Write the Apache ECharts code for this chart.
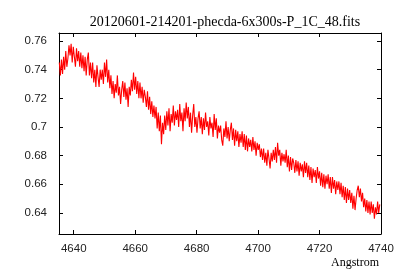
<!DOCTYPE html>
<html>
<head>
<meta charset="utf-8">
<script src="https://cdn.jsdelivr.net/npm/echarts@6/dist/echarts.min.js"></script>
<style>html,body{margin:0;padding:0;background:#fff}#c{width:400px;height:280px}</style>
</head>
<body>
<div id="c"></div>
<script>
// Wavelength grid (Angstrom): start and spacing of samples
const lambdaStart = 4635.3;
const lambdaStep = 0.35;
// Relative flux values
const flux = [
  0.745, 0.736, 0.747, 0.737, 0.749, 0.740, 0.753, 0.742, 0.748, 0.757,
  0.750, 0.758, 0.745, 0.756, 0.749, 0.742, 0.755, 0.746, 0.753, 0.742,
  0.752, 0.741, 0.750, 0.739, 0.749, 0.736, 0.747, 0.752, 0.736, 0.745,
  0.734, 0.745, 0.731, 0.740, 0.728, 0.743, 0.735, 0.728, 0.740, 0.733,
  0.740, 0.730, 0.745, 0.735, 0.747, 0.731, 0.740, 0.727, 0.736, 0.723,
  0.732, 0.720, 0.730, 0.724, 0.736, 0.722, 0.728, 0.716, 0.726, 0.732,
  0.721, 0.731, 0.719, 0.727, 0.714, 0.728, 0.722, 0.733, 0.725, 0.738,
  0.726, 0.735, 0.723, 0.732, 0.720, 0.731, 0.720, 0.728, 0.717, 0.726,
  0.721, 0.714, 0.725, 0.712, 0.721, 0.709, 0.718, 0.707, 0.715, 0.706,
  0.714, 0.699, 0.710, 0.697, 0.708, 0.688, 0.703, 0.695, 0.708, 0.698,
  0.711, 0.701, 0.713, 0.697, 0.709, 0.703, 0.715, 0.701, 0.711, 0.705,
  0.712, 0.700, 0.716, 0.704, 0.710, 0.697, 0.713, 0.704, 0.717, 0.706,
  0.714, 0.700, 0.710, 0.696, 0.708, 0.716, 0.700, 0.707, 0.696, 0.706,
  0.711, 0.699, 0.707, 0.695, 0.706, 0.698, 0.710, 0.700, 0.704, 0.694,
  0.707, 0.699, 0.703, 0.693, 0.709, 0.698, 0.706, 0.692, 0.701, 0.696,
  0.701, 0.691, 0.687, 0.699, 0.693, 0.704, 0.692, 0.700, 0.690, 0.698,
  0.703, 0.691, 0.699, 0.687, 0.698, 0.690, 0.697, 0.686, 0.695, 0.689,
  0.697, 0.686, 0.695, 0.684, 0.694, 0.683, 0.692, 0.686, 0.691, 0.683,
  0.693, 0.684, 0.690, 0.680, 0.689, 0.684, 0.688, 0.679, 0.685, 0.677,
  0.685, 0.675, 0.682, 0.673, 0.684, 0.678, 0.671, 0.682, 0.676, 0.684,
  0.677, 0.686, 0.675, 0.689, 0.680, 0.684, 0.673, 0.682, 0.676, 0.681,
  0.675, 0.684, 0.672, 0.680, 0.669, 0.679, 0.670, 0.678, 0.675, 0.668,
  0.677, 0.669, 0.676, 0.666, 0.675, 0.669, 0.674, 0.665, 0.676, 0.668,
  0.675, 0.665, 0.673, 0.663, 0.672, 0.661, 0.671, 0.665, 0.670, 0.661,
  0.672, 0.664, 0.669, 0.659, 0.668, 0.658, 0.667, 0.657, 0.666, 0.660,
  0.667, 0.657, 0.665, 0.654, 0.665, 0.657, 0.663, 0.653, 0.662, 0.656,
  0.662, 0.653, 0.661, 0.651, 0.659, 0.649, 0.658, 0.647, 0.657, 0.649,
  0.656, 0.647, 0.654, 0.643, 0.652, 0.642, 0.650, 0.656, 0.659, 0.651,
  0.657, 0.648, 0.654, 0.644, 0.650, 0.641, 0.649, 0.640, 0.648, 0.639,
  0.648, 0.640, 0.646, 0.636, 0.644, 0.639, 0.648, 0.640, 0.646
];
const xTicks = [4640, 4660, 4680, 4700, 4720, 4740];
const yTicks = [0.64, 0.66, 0.68, 0.70, 0.72, 0.74, 0.76];
const titleText = '20120601-214201-phecda-6x300s-P_1C_48.fits';
const xName = 'Angstrom';

const points = flux.map((v, i) => [+(lambdaStart + i * lambdaStep).toFixed(2), v]);

const chart = echarts.init(document.getElementById('c'), null, {renderer: 'canvas'});
const labelFont = {fontFamily: 'Liberation Sans', fontSize: 11.5, color: '#222'};
const xMin = 4635.2, xMax = 4740, yMin = 0.6253, yMax = 0.7656;
function xAxisDef(pos, showLabel) {
  return {
    type: 'value', position: pos, min: xMin, max: xMax,
    axisLine: {show: true, onZero: false, lineStyle: {color: '#000', width: 1}},
    axisTick: {show: true, inside: true, length: 4, customValues: xTicks, lineStyle: {color: '#000'}},
    axisLabel: Object.assign({show: showLabel, customValues: xTicks, margin: 9,
      formatter: v => String(Math.round(v))}, labelFont),
    splitLine: {show: false}
  };
}
function yAxisDef(pos, showLabel) {
  return {
    type: 'value', position: pos, min: yMin, max: yMax,
    axisLine: {show: true, onZero: false, lineStyle: {color: '#000', width: 1}},
    axisTick: {show: true, inside: true, length: 4, customValues: yTicks, lineStyle: {color: '#000'}},
    axisLabel: Object.assign({show: showLabel, customValues: yTicks, margin: 12,
      formatter: v => String(Math.round(v * 100) / 100)}, labelFont),
    splitLine: {show: false}
  };
}
chart.setOption({
  animation: false,
  backgroundColor: '#fff',
  title: [
    {text: titleText, left: 220, top: 10, textAlign: 'center',
     textStyle: {fontFamily: 'Liberation Serif', fontSize: 14, fontWeight: 'normal', color: '#000'}},
    {text: xName, right: 16, top: 252,
     textStyle: {fontFamily: 'Liberation Serif', fontSize: 12, fontWeight: 'normal', color: '#000'}}
  ],
  grid: {left: 59, right: 19, top: 33, bottom: 46, containLabel: false},
  xAxis: [xAxisDef('bottom', true), xAxisDef('top', false)],
  yAxis: [yAxisDef('left', true), yAxisDef('right', false)],
  series: [{
    type: 'line', data: points, xAxisIndex: 0, yAxisIndex: 0,
    showSymbol: false, symbol: 'none', clip: true,
    lineStyle: {color: '#ff0000', width: 1.1}
  }]
});
</script>
</body>
</html>
